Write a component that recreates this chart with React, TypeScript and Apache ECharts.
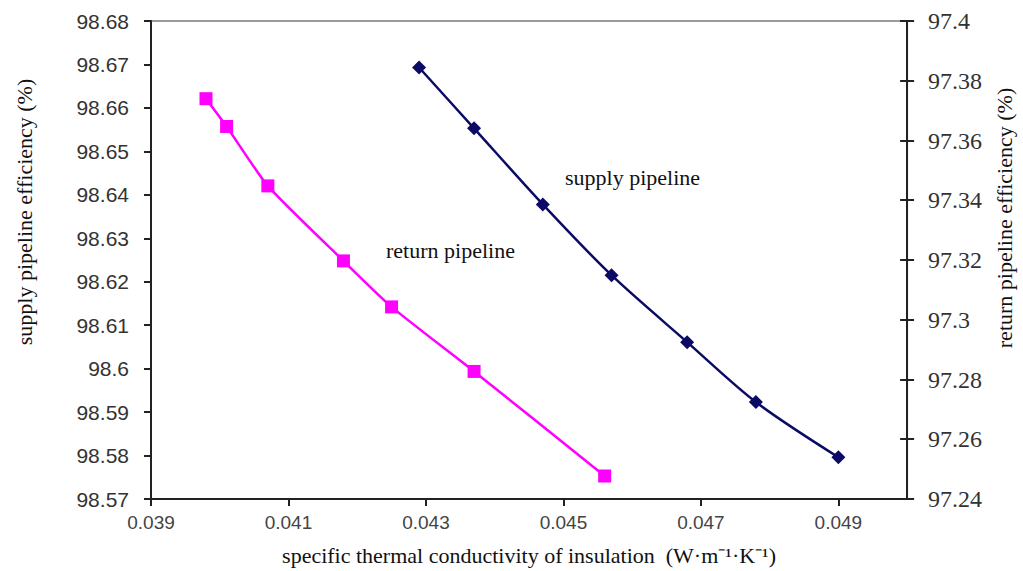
import React, { useEffect, useRef } from "react";
import * as echarts from "echarts";

const supplyX = [0.0429, 0.0437, 0.0447, 0.0457, 0.0468, 0.0478, 0.049];
const supplyY = [98.6693, 98.6553, 98.6378, 98.6215, 98.6061, 98.5923, 98.5796];
const returnX = [0.0398, 0.0401, 0.0407, 0.0418, 0.0425, 0.0437, 0.0456];
const returnY = [97.374, 97.3647, 97.3448, 97.3197, 97.3043, 97.2827, 97.2477];

const xLabels = ["0.039", "0.041", "0.043", "0.045", "0.047", "0.049"];

const serif = "'Liberation Serif', 'Times New Roman', serif";
const sans = "'Liberation Sans', Arial, sans-serif";

export default function App() {
  const ref = useRef<HTMLDivElement>(null);
  useEffect(() => {
    if (!ref.current) return;
    const chart = echarts.init(ref.current, undefined, { renderer: "svg" });
    const tickFmt = (v: number) => {
      const s = v.toFixed(3);
      return xLabels.includes(s) ? s : "";
    };
    chart.setOption({
      animation: false,
      backgroundColor: "#ffffff",
      grid: {
        left: 151,
        right: 114,
        top: 21,
        bottom: 71,
        show: true,
        borderColor: "#9a9a9a",
        borderWidth: 2,
      },
      xAxis: {
        type: "value",
        min: 0.039,
        max: 0.05,
        interval: 0.002,
        name: "specific thermal conductivity of insulation  (W·m⁻¹·K⁻¹)",
        nameLocation: "middle",
        nameGap: 45,
        nameTextStyle: { fontFamily: serif, fontSize: 22, color: "#111" },
        axisLine: { show: true, lineStyle: { color: "#222", width: 2 } },
        axisTick: { show: true, length: 7, lineStyle: { color: "#222", width: 2 } },
        axisLabel: {
          formatter: tickFmt,
          showMaxLabel: false,
          margin: 14,
          fontFamily: sans,
          fontSize: 19,
          color: "#444",
        },
        splitLine: { show: false },
      },
      yAxis: [
        {
          type: "value",
          position: "left",
          min: 98.57,
          max: 98.68,
          interval: 0.01,
          name: "supply pipeline efficiency (%)",
          nameLocation: "middle",
          nameRotate: 90,
          nameGap: 116,
          nameTextStyle: { fontFamily: serif, fontSize: 22, color: "#111", padding: [0, 0, 0, 96] },
          axisLine: { show: true, lineStyle: { color: "#222", width: 2 } },
          axisTick: { show: true, length: 7, lineStyle: { color: "#222", width: 2 } },
          axisLabel: {
            formatter: (v: number) => String(parseFloat(v.toFixed(2))),
            margin: 22,
            fontFamily: sans,
            fontSize: 21,
            color: "#333",
          },
          splitLine: { show: false },
        },
        {
          type: "value",
          position: "right",
          min: 97.24,
          max: 97.4,
          interval: 0.02,
          name: "return pipeline efficiency (%)",
          nameLocation: "middle",
          nameRotate: 90,
          nameGap: 66,
          nameTextStyle: { fontFamily: serif, fontSize: 22, color: "#111", padding: [0, 0, 0, 84] },
          axisLine: { show: true, lineStyle: { color: "#222", width: 2 } },
          axisTick: { show: true, length: 7, lineStyle: { color: "#222", width: 2 } },
          axisLabel: {
            formatter: (v: number) => String(parseFloat(v.toFixed(2))),
            margin: 21,
            fontFamily: serif,
            fontSize: 24,
            color: "#333",
          },
          splitLine: { show: false },
        },
        {
          type: "value",
          position: "right",
          min: 97.24,
          max: 97.4,
          interval: 0.02,
          axisLine: { show: false },
          axisTick: { show: true, inside: true, length: 7, lineStyle: { color: "#222", width: 2 } },
          axisLabel: { show: false },
          splitLine: { show: false },
        },
      ],
      graphic: [
        {
          type: "text",
          left: 565,
          top: 166,
          style: { text: "supply pipeline", fontFamily: serif, fontSize: 22, fill: "#111" },
        },
        {
          type: "text",
          left: 386,
          top: 239,
          style: { text: "return pipeline", fontFamily: serif, fontSize: 22, fill: "#111" },
        },
      ],
      series: [
        {
          name: "supply pipeline",
          type: "line",
          yAxisIndex: 0,
          smooth: 0.3,
          data: supplyX.map((x, i) => [x, supplyY[i]]),
          symbol: "diamond",
          symbolSize: 14,
          lineStyle: { color: "#0b0b66", width: 2.5 },
          itemStyle: { color: "#0b0b66" },
        },
        {
          name: "return pipeline",
          type: "line",
          yAxisIndex: 1,
          smooth: 0.2,
          data: returnX.map((x, i) => [x, returnY[i]]),
          symbol: "rect",
          symbolSize: 13,
          lineStyle: { color: "#ff00ff", width: 2.5 },
          itemStyle: { color: "#ff00ff" },
        },
      ],
    });
    return () => chart.dispose();
  }, []);
  return (
    <div
      ref={ref}
      style={{ position: "absolute", left: 0, top: 0, width: 1023, height: 571, overflow: "hidden" }}
    />
  );
}
